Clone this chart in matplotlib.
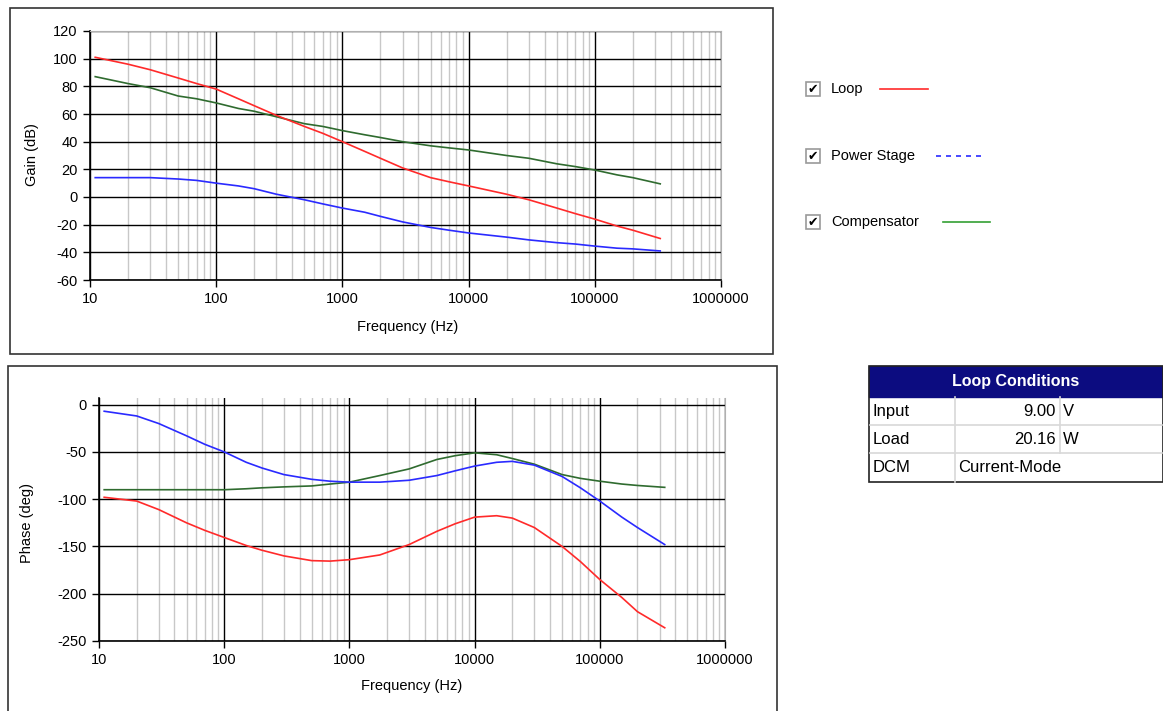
import numpy as np
import matplotlib.pyplot as plt
from matplotlib.patches import Rectangle
from matplotlib.ticker import LogLocator, NullFormatter, FixedLocator

plt.rcParams['font.family'] = ['Liberation Sans', 'DejaVu Sans']
plt.rcParams['axes.unicode_minus'] = False

# Gain plot data (Hz, dB)
gain_f = [11, 20, 30, 50, 70, 100, 150, 200, 300, 500, 700, 1000, 1500, 2000, 3000,
          5000, 7000, 10000, 20000, 30000, 50000, 70000, 100000, 150000, 200000, 330000]
loop_gain = [101, 96, 92, 86, 82, 78, 71, 66, 59, 51, 46, 40, 33, 28, 21,
             14, 11, 8, 2, -2, -8, -12, -16, -21, -24, -30]
power_gain = [14, 14, 14, 13, 12, 10, 8, 6, 2, -2, -5, -8, -11, -14, -18,
              -22, -24, -26, -29, -31, -33, -34, -35.5, -37, -37.5, -39]
comp_gain = [87, 82, 79, 73, 71, 68, 64, 62, 58, 53, 51, 48, 45, 43, 40,
             37, 35.5, 34, 30, 28, 24, 22, 19.5, 16, 14, 9.5]

# Phase plot data (Hz, deg)
phase_f = [11, 20, 30, 50, 70, 100, 150, 200, 300, 500, 700, 1000, 1750, 3000, 5000,
           7000, 10000, 15000, 20000, 30000, 50000, 70000, 100000, 150000, 200000, 330000]
loop_phase = [-98, -102, -111, -125, -133, -140.5, -149, -154, -160, -165, -165.5, -164,
              -159, -148, -134, -126, -119, -117.5, -120, -130, -150, -166, -185,
              -204, -219, -236]
power_phase = [-7, -12, -20, -33, -42, -50, -61, -67, -74, -79, -81, -82, -82, -80, -75,
               -70, -65, -61, -60, -64, -76, -88, -102, -119, -130, -148]
comp_phase = [-90, -90, -90, -90, -90, -90, -89, -88, -87, -86, -84, -82, -75, -68, -58,
              -54, -51, -53, -57, -63, -74, -78, -81, -84, -85.5, -87.5]

red = '#ff2a2a'
blue = '#2a2aff'
green = '#2f6b2f'

W, H = 1163, 711
fig = plt.figure(figsize=(W / 100, H / 100), dpi=100)


def box(x0, y0, x1, y1, **kw):
    fig.add_artist(Rectangle((x0 / W, 1 - y1 / H), (x1 - x0) / W, (y1 - y0) / H,
                             transform=fig.transFigure, **kw))


def ftext(x, y, s, **kw):
    fig.text(x / W, 1 - y / H, s, **kw)


def style_axes(ax, ylim, yticks):
    ax.set_xscale('log')
    ax.set_xlim(10, 1e6)
    ax.set_ylim(*ylim)
    ax.set_yticks(yticks)
    ax.xaxis.set_major_locator(FixedLocator([10, 100, 1000, 10000, 100000, 1000000]))
    ax.xaxis.set_minor_locator(LogLocator(base=10, subs=np.arange(2, 10)))
    ax.xaxis.set_minor_formatter(NullFormatter())
    ax.set_xticklabels(['10', '100', '1000', '10000', '100000', '1000000'])
    ax.grid(True, which='minor', axis='x', color='#c8c8c8', lw=1.0)
    ax.grid(True, which='major', color='black', lw=1.0)
    ax.set_axisbelow(True)
    ax.tick_params(which='major', length=5, width=1, labelsize=10.5, pad=4)
    ax.tick_params(which='minor', length=0)
    for s in ('top', 'right'):
        ax.spines[s].set_color('#b0b0b0')
    for s in ('left', 'bottom'):
        ax.spines[s].set_linewidth(1.2)


# panel frames
box(10, 8, 773, 354, fill=False, ec='#333333', lw=1.2)
box(8, 366, 777, 716, fill=False, ec='#333333', lw=1.2)

# gain axes
ax1 = fig.add_axes([90 / W, 1 - 280 / H, 631 / W, 249 / H])
style_axes(ax1, (-60, 120), range(-60, 121, 20))
ax1.plot(gain_f, comp_gain, color=green, lw=1.2)
ax1.plot(gain_f, power_gain, color=blue, lw=1.2)
ax1.plot(gain_f, loop_gain, color=red, lw=1.2)
ftext(32, 155, 'Gain (dB)', rotation=90, ha='center', va='center', fontsize=10.5)
ftext(408, 327, 'Frequency (Hz)', ha='center', va='center', fontsize=10.5)

# phase axes
ax2 = fig.add_axes([99 / W, 1 - 641 / H, 626 / W, 243 / H])
style_axes(ax2, (-250, 7), range(-250, 1, 50))
ax2.spines['top'].set_visible(False)
ax2.plot(phase_f, comp_phase, color=green, lw=1.2)
ax2.plot(phase_f, power_phase, color=blue, lw=1.2)
ax2.plot(phase_f, loop_phase, color=red, lw=1.2)
ftext(27, 523, 'Phase (deg)', rotation=90, ha='center', va='center', fontsize=10.5)
ftext(412, 686, 'Frequency (Hz)', ha='center', va='center', fontsize=10.5)

# legend with check boxes
legend_items = [('Loop', red, '-', 89, 880, 928),
                ('Power Stage', blue, '--', 156, 936, 985),
                ('Compensator', '#33a033', '-', 222, 943, 990)]
for label, col, ls, yy, lx0, lx1 in legend_items:
    box(806, yy - 7, 820, yy + 7, fill=True, fc='white', ec='#9a9a9a', lw=1.2)
    ftext(813, yy + 0.5, '\u2714', ha='center', va='center', fontsize=9,
          family='DejaVu Sans', color='black')
    ftext(831, yy, label, ha='left', va='center', fontsize=10.5)
    fig.add_artist(plt.Line2D([lx0 / W, lx1 / W], [1 - yy / H, 1 - yy / H],
                              transform=fig.transFigure, color=col, ls=ls,
                              lw=1.2, dashes=(3, 3) if ls == '--' else (None, None)))

# loop conditions table
box(869, 366, 1163, 397, fill=True, fc='#0c0c80', ec='#0c0c80', lw=1)
ftext(1016, 382, 'Loop Conditions', ha='center', va='center', fontsize=11.5,
      fontweight='bold', color='white')
box(869, 366, 1163, 482, fill=False, ec='#222222', lw=1.2)
row_y = [397, 425, 453, 482]
for y in row_y[1:-1]:
    fig.add_artist(plt.Line2D([870 / W, 1162 / W], [1 - y / H, 1 - y / H],
                              transform=fig.transFigure, color='#d8d8d8', lw=1.2))
for x, y1 in [(955, 482), (1060, 453)]:
    fig.add_artist(plt.Line2D([x / W, x / W], [1 - 397 / H, 1 - y1 / H],
                              transform=fig.transFigure, color='#d8d8d8', lw=1.2))

table_labels = ['Input', 'Load', 'DCM']
table_values = ['9.00', '20.16', 'Current-Mode']
table_units = ['V', 'W', '']
for i, (lab, val, unit) in enumerate(zip(table_labels, table_values, table_units)):
    yc = (row_y[i] + row_y[i + 1]) / 2
    ftext(873, yc, lab, ha='left', va='center', fontsize=12)
    if unit:
        ftext(1056, yc, val, ha='right', va='center', fontsize=12)
        ftext(1063, yc, unit, ha='left', va='center', fontsize=12)
    else:
        ftext(958, yc, val, ha='left', va='center', fontsize=12)

fig.savefig('out.png', dpi=100)
